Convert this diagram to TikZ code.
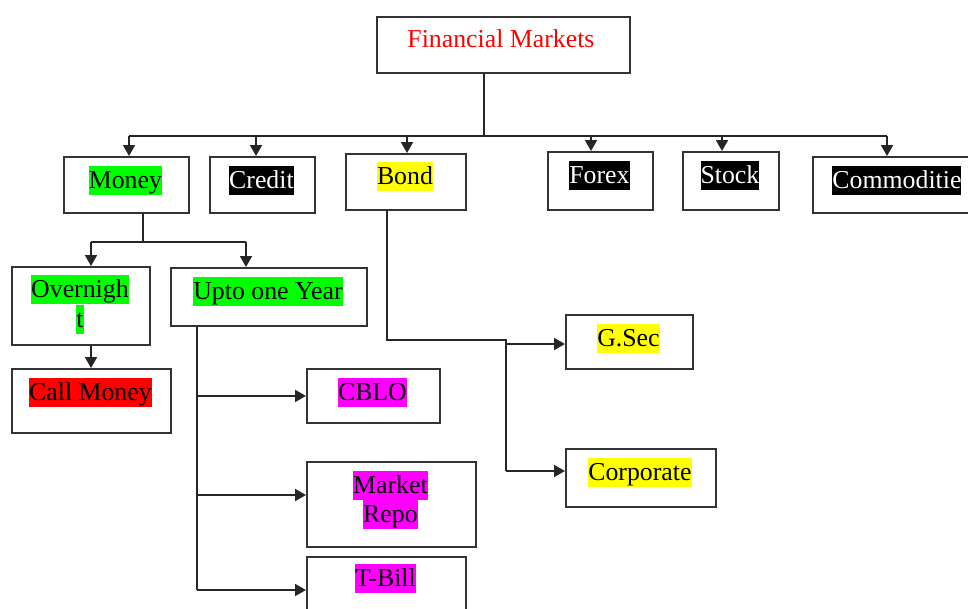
\documentclass[tikz,border=0pt]{standalone}
\usepackage{fontspec}
\setmainfont{Liberation Serif}
\usetikzlibrary{arrows.meta}
\definecolor{hlgreen}{HTML}{00FF00}
\definecolor{hlyellow}{HTML}{FFFF00}
\definecolor{hlmag}{HTML}{FF00FF}
\definecolor{hlred}{HTML}{FF0000}
\definecolor{txtred}{HTML}{FF0000}
\newcommand\hlt[2]{{\setlength\fboxsep{0pt}\colorbox{#1}{\rule[-6.5pt]{0pt}{29pt}#2}}}
\newcommand\hlw[1]{\hlt{black}{\color{white}#1}}
\begin{document}
\begin{tikzpicture}[x=1pt,y=-1pt,
  font=\fontsize{25.8}{29.5}\selectfont,
  box/.style={draw=black!80, line width=1.9pt, inner sep=0pt, anchor=north west},
  lab/.style={inner sep=0pt, anchor=north, xshift=-1pt, yshift=-9.7pt},
  ln/.style={draw=black!85, line width=1.8pt},
  arr/.style={ln, -{Triangle[length=11pt,width=12pt]}}]
\useasboundingbox (0,0) rectangle (968,608);
\fill[white] (0,0) rectangle (968,608);

% boxes
\node[box, minimum width=253pt, minimum height=56pt] (fm) at (376,16) {};
\node[box, minimum width=125pt, minimum height=56pt] (money) at (63,156) {};
\node[box, minimum width=105pt, minimum height=56pt] (credit) at (209,156) {};
\node[box, minimum width=120pt, minimum height=56pt] (bond) at (345,153) {};
\node[box, minimum width=105pt, minimum height=58pt] (forex) at (547,151) {};
\node[box, minimum width=96pt, minimum height=58pt] (stock) at (682,151) {};
\node[box, minimum width=170pt, minimum height=56pt] (comm) at (812,156) {};
\node[box, minimum width=138pt, minimum height=78pt] (overnight) at (11,266) {};
\node[box, minimum width=159pt, minimum height=64pt] (call) at (11,368) {};
\node[box, minimum width=196pt, minimum height=58pt] (upto) at (170,267) {};
\node[box, minimum width=133pt, minimum height=54pt] (cblo) at (306,368) {};
\node[box, minimum width=169pt, minimum height=85pt] (repo) at (306,461) {};
\node[box, minimum width=159pt, minimum height=64pt] (tbill) at (306,556) {};
\node[box, minimum width=127pt, minimum height=54pt] (gsec) at (565,314) {};
\node[box, minimum width=150pt, minimum height=58pt] (corp) at (565,448) {};

% labels
\node[lab, xshift=-1.5pt, yshift=0.7pt] (fm-t) at (fm.north) {\color{txtred}\rule[-6.5pt]{0pt}{29pt}Financial Markets};
\node[lab] (money-t) at (money.north) {\hlt{hlgreen}{Money}};
\node[lab] (credit-t) at (credit.north) {\hlw{Credit}};
\node[lab, yshift=0.7pt] (bond-t) at (bond.north) {\hlt{hlyellow}{Bond}};
\node[lab] (forex-t) at (forex.north) {\hlw{Forex}};
\node[lab] (stock-t) at (stock.north) {\hlw{Stock}};
\node[lab] (comm-t) at (comm.north) {\hlw{Commoditie}};
\node[lab, align=center, yshift=0.7pt] (overnight-t) at (overnight.north) {\hlt{hlgreen}{Overnigh}\\\hlt{hlgreen}{t}};
\node[lab] (call-t) at (call.north) {\hlt{hlred}{Call Money}};
\node[lab] (upto-t) at (upto.north) {\hlt{hlgreen}{Upto one Year}};
\node[lab] (cblo-t) at (cblo.north) {\hlt{hlmag}{CBLO}};
\node[lab, align=center] (repo-t) at (repo.north) {\hlt{hlmag}{Market}\\\hlt{hlmag}{Repo}};
\node[lab, yshift=2.4pt] (tbill-t) at (tbill.north) {\hlt{hlmag}{T-Bill}};
\node[lab] (gsec-t) at (gsec.north) {\hlt{hlyellow}{G.Sec}};
\node[lab, yshift=0.4pt] (corp-t) at (corp.north) {\hlt{hlyellow}{Corporate}};

% main bus
\coordinate (jA) at (484,136);
\coordinate (busL) at (129,136);
\coordinate (busR) at (887,136);
\coordinate (aCredit) at (256,136);
\coordinate (aBond) at (407,136);
\coordinate (aForex) at (591,136);
\coordinate (aStock) at (722,136);
\draw[ln] (fm.south -| jA) -- (jA);
\draw[ln] (busL) -- (busR);
\draw[arr] (busL) -- (busL |- money.north);
\draw[arr] (aCredit) -- (aCredit |- credit.north);
\draw[arr] (aBond) -- (aBond |- bond.north);
\draw[arr] (aForex) -- (aForex |- forex.north);
\draw[arr] (aStock) -- (aStock |- stock.north);
\draw[arr] (busR) -- (busR |- comm.north);

% money subtree
\coordinate (mJ) at (143,242);
\coordinate (mL) at (91,242);
\coordinate (mR) at (246,242);
\draw[ln] (money.south -| mJ) -- (mJ);
\draw[ln] (mL) -- (mR);
\draw[arr] (mL) -- (mL |- overnight.north);
\draw[arr] (mR) -- (mR |- upto.north);
\draw[arr] (mL |- overnight.south) -- (mL |- call.north);

% upto subtree
\coordinate (uB) at (197,590);
\coordinate (uRepo) at (197,495);
\draw[ln] (upto.south -| uB) -- (uB);
\draw[arr] (uB |- cblo.west) -- (cblo.west);
\draw[arr] (uRepo) -- (uRepo -| repo.west);
\draw[arr] (uB) -- (uB -| tbill.west);

% bond subtree
\coordinate (bJ) at (387,340);
\coordinate (bK) at (506,340);
\coordinate (bG) at (506,344);
\coordinate (bC) at (506,471);
\draw[ln] (bond.south -| bJ) -- (bJ) -- (bK) -- (bC);
\draw[arr] (bG) -- (bG -| gsec.west);
\draw[arr] (bC) -- (bC -| corp.west);
\end{tikzpicture}
\end{document}
